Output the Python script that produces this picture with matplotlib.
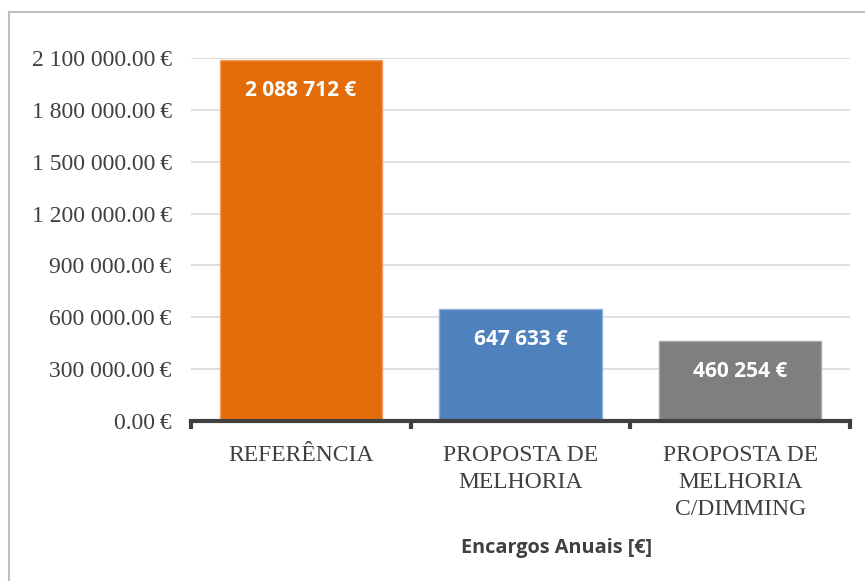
import matplotlib.pyplot as plt
from matplotlib.lines import Line2D
from matplotlib.ticker import FuncFormatter

categories = ["REFERÊNCIA", "PROPOSTA DE\nMELHORIA", "PROPOSTA DE\nMELHORIA\nC/DIMMING"]
values = [2088712, 647633, 460254]
bar_colors = ["#E36C0A", "#4F81BD", "#7F7F7F"]
edge_colors = ["#F0A060", "#8FB0D8", "#A6A6A6"]
y_ticks = [0, 300000, 600000, 900000, 1200000, 1500000, 1800000, 2100000]

W, H = 865, 581
fig = plt.figure(figsize=(W / 100, H / 100), dpi=100)
ax = fig.add_axes([191 / W, 1 - 421 / H, (850 - 191) / W, (421 - 58) / H])

x = list(range(len(categories)))
bars = ax.bar(x, values, width=0.74, color=bar_colors, edgecolor=edge_colors,
              linewidth=1, zorder=3)

ax.set_xlim(-0.5, 2.5)
ax.set_ylim(0, 2100000)
ax.set_yticks(y_ticks)
# narrow space before the euro sign, like the original
ax.yaxis.set_major_formatter(FuncFormatter(
    lambda v, p: "{:,.2f}\u2009€".format(v).replace(",", " ")))
ax.grid(axis="y", color="#D9D9D9", linewidth=1.2, zorder=0)

for s in ["top", "right", "left"]:
    ax.spines[s].set_visible(False)
ax.spines["bottom"].set_color("#404040")
ax.spines["bottom"].set_linewidth(3)
ax.spines["bottom"].set_zorder(4)

ax.tick_params(axis="y", length=0, pad=14, labelsize=17, labelcolor="#404040")
ax.set_xticks(x)
ax.set_xticklabels(categories)
for lbl in ax.get_yticklabels() + ax.get_xticklabels():
    lbl.set_family(["Liberation Serif", "DejaVu Serif"])
ax.tick_params(axis="x", length=0, pad=17, labelsize=17, labelcolor="#404040")
for lbl in ax.get_xticklabels():
    lbl.set_linespacing(1.38)

# tick marks between categories
ax.set_xticks([-0.5, 0.5, 1.5, 2.5], minor=True)
ax.tick_params(axis="x", which="minor", length=6, width=3, color="#404040",
               direction="out")

for b, v in zip(bars, values):
    ax.annotate("{:,} €".format(v).replace(",", " "),
                (b.get_x() + b.get_width() / 2, v), xytext=(0, -22),
                textcoords="offset points", ha="center", va="center",
                color="white", fontsize=15, fontweight="bold",
                family="Open Sans", zorder=5)

fig.text(557 / W, 1 - 548 / H, "Encargos Anuais [€]", ha="center", va="center",
         fontsize=14.3, fontweight="bold", family="Open Sans", color="#404040")

# chart area border (only top and left visible)
fig.add_artist(Line2D([9 / W, 1], [1 - 12 / H, 1 - 12 / H], color="#BFBFBF",
                      linewidth=1.5, transform=fig.transFigure))
fig.add_artist(Line2D([9 / W, 9 / W], [0, 1 - 12 / H], color="#BFBFBF",
                      linewidth=1.5, transform=fig.transFigure))

fig.savefig("out.png", dpi=100)
